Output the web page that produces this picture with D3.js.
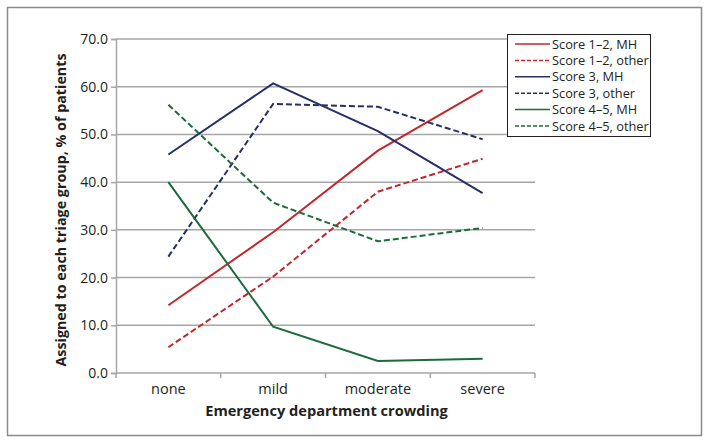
<!DOCTYPE html>
<html><head><meta charset="utf-8">
<script src="https://cdn.jsdelivr.net/npm/d3@7"></script>
<style>
body{margin:0;background:#fff;}
svg{display:block;font-family:"Open Sans",sans-serif;}
</style></head>
<body><svg id="chart" width="709" height="444"></svg>
<script>
const categories = ["none", "mild", "moderate", "severe"];
const yTicks = [0, 10, 20, 30, 40, 50, 60, 70];
const seriesNames = ["Score 1\u20132, MH", "Score 1\u20132, other", "Score 3, MH", "Score 3, other", "Score 4\u20135, MH", "Score 4\u20135, other"];
const score12MH = [14.2, 29.5, 46.6, 59.3];
const score12Other = [5.4, 20.2, 38.0, 44.9];
const score3MH = [45.8, 60.7, 50.7, 37.7];
const score3Other = [24.4, 56.4, 55.8, 49.0];
const score45MH = [40.0, 9.7, 2.5, 3.0];
const score45Other = [56.2, 35.7, 27.6, 30.4];
const seriesValues = [score12MH, score12Other, score3MH, score3Other, score45MH, score45Other];
const seriesColors = ["#c1272d", "#c1272d", "#262f66", "#262f66", "#1c6b3a", "#1c6b3a"];
const seriesDashed = [false, true, false, true, false, true];

const svg = d3.select("#chart");
svg.append("rect").attr("x", 7.5).attr("y", 7.5).attr("width", 694).attr("height", 428)
  .attr("fill", "#fff").attr("stroke", "#8a8a8a").attr("stroke-width", 1.5);

const L = 116, R = 535, T = 39, B = 373;
const x = d3.scalePoint().domain(categories).range([L, R]).padding(0.5);
const y = d3.scaleLinear().domain([0, 70]).range([B, T]);

// gridlines
svg.append("g").selectAll("line").data(yTicks.filter(d => d > 0)).join("line")
  .attr("x1", L).attr("x2", R).attr("y1", d => y(d)).attr("y2", d => y(d))
  .attr("stroke", "#a6a6a6").attr("stroke-width", 1.5);

// y axis
const yAxis = svg.append("g").attr("transform", `translate(${L},0)`)
  .call(d3.axisLeft(y).tickValues(yTicks).tickFormat(d3.format(".1f")).tickSize(5).tickPadding(3));
yAxis.select(".domain").attr("stroke", "#a6a6a6").attr("stroke-width", 1.5);
yAxis.selectAll(".tick line").attr("stroke", "#a6a6a6").attr("stroke-width", 1.5);
yAxis.selectAll("text").attr("font-size", 14).attr("fill", "#231f20").attr("font-family", "Open Sans");

// x axis
const bw = x.step();
const xAxis = svg.append("g").attr("transform", `translate(0,${B})`);
xAxis.append("line").attr("x1", L).attr("x2", R).attr("stroke", "#a6a6a6").attr("stroke-width", 1.5);
const bounds = d3.range(categories.length + 1).map(i => x(categories[0]) - bw / 2 + i * bw);
xAxis.selectAll("line.t").data(bounds).join("line").attr("class", "t")
  .attr("x1", d => d).attr("x2", d => d).attr("y1", 0).attr("y2", 5)
  .attr("stroke", "#a6a6a6").attr("stroke-width", 1.5);
xAxis.selectAll("text").data(categories).join("text")
  .attr("x", d => x(d)).attr("y", 21).attr("text-anchor", "middle")
  .attr("font-size", 14.5).attr("fill", "#231f20").text(d => d);

// axis titles
svg.append("text").attr("x", (L + R) / 2 + 1).attr("y", 416).attr("text-anchor", "middle")
  .attr("font-size", 14.6).attr("font-weight", "bold").attr("fill", "#231f20")
  .text("Emergency department crowding");
svg.append("text").attr("transform", `translate(66,${(T + B) / 2 + 4}) rotate(-90)`)
  .attr("text-anchor", "middle").attr("font-size", 14.3).attr("font-weight", "bold").attr("fill", "#231f20")
  .text("Assigned to each triage group, % of patients");

// lines
const line = d3.line().x((d, i) => x(categories[i])).y(d => y(d));
seriesValues.forEach((vals, i) => {
  svg.append("path").datum(vals).attr("d", line).attr("fill", "none")
    .attr("stroke", seriesColors[i]).attr("stroke-width", 2)
    .attr("stroke-dasharray", seriesDashed[i] ? "6,3" : null);
});

// legend
const lg = svg.append("g");
lg.append("rect").attr("x", 507.5).attr("y", 34.5).attr("width", 143).attr("height", 102)
  .attr("fill", "#fff").attr("stroke", "#231f20").attr("stroke-width", 1);
seriesNames.forEach((name, i) => {
  const yy = 44 + i * 16.4;
  lg.append("line").attr("x1", 515).attr("x2", 550).attr("y1", yy).attr("y2", yy)
    .attr("stroke", seriesColors[i]).attr("stroke-width", 1.5)
    .attr("stroke-dasharray", seriesDashed[i] ? "4,2" : null);
  lg.append("text").attr("x", 552).attr("y", yy + 4.5).attr("font-size", 12.8)
    .attr("fill", "#231f20").text(name);
});
</script></body></html>
